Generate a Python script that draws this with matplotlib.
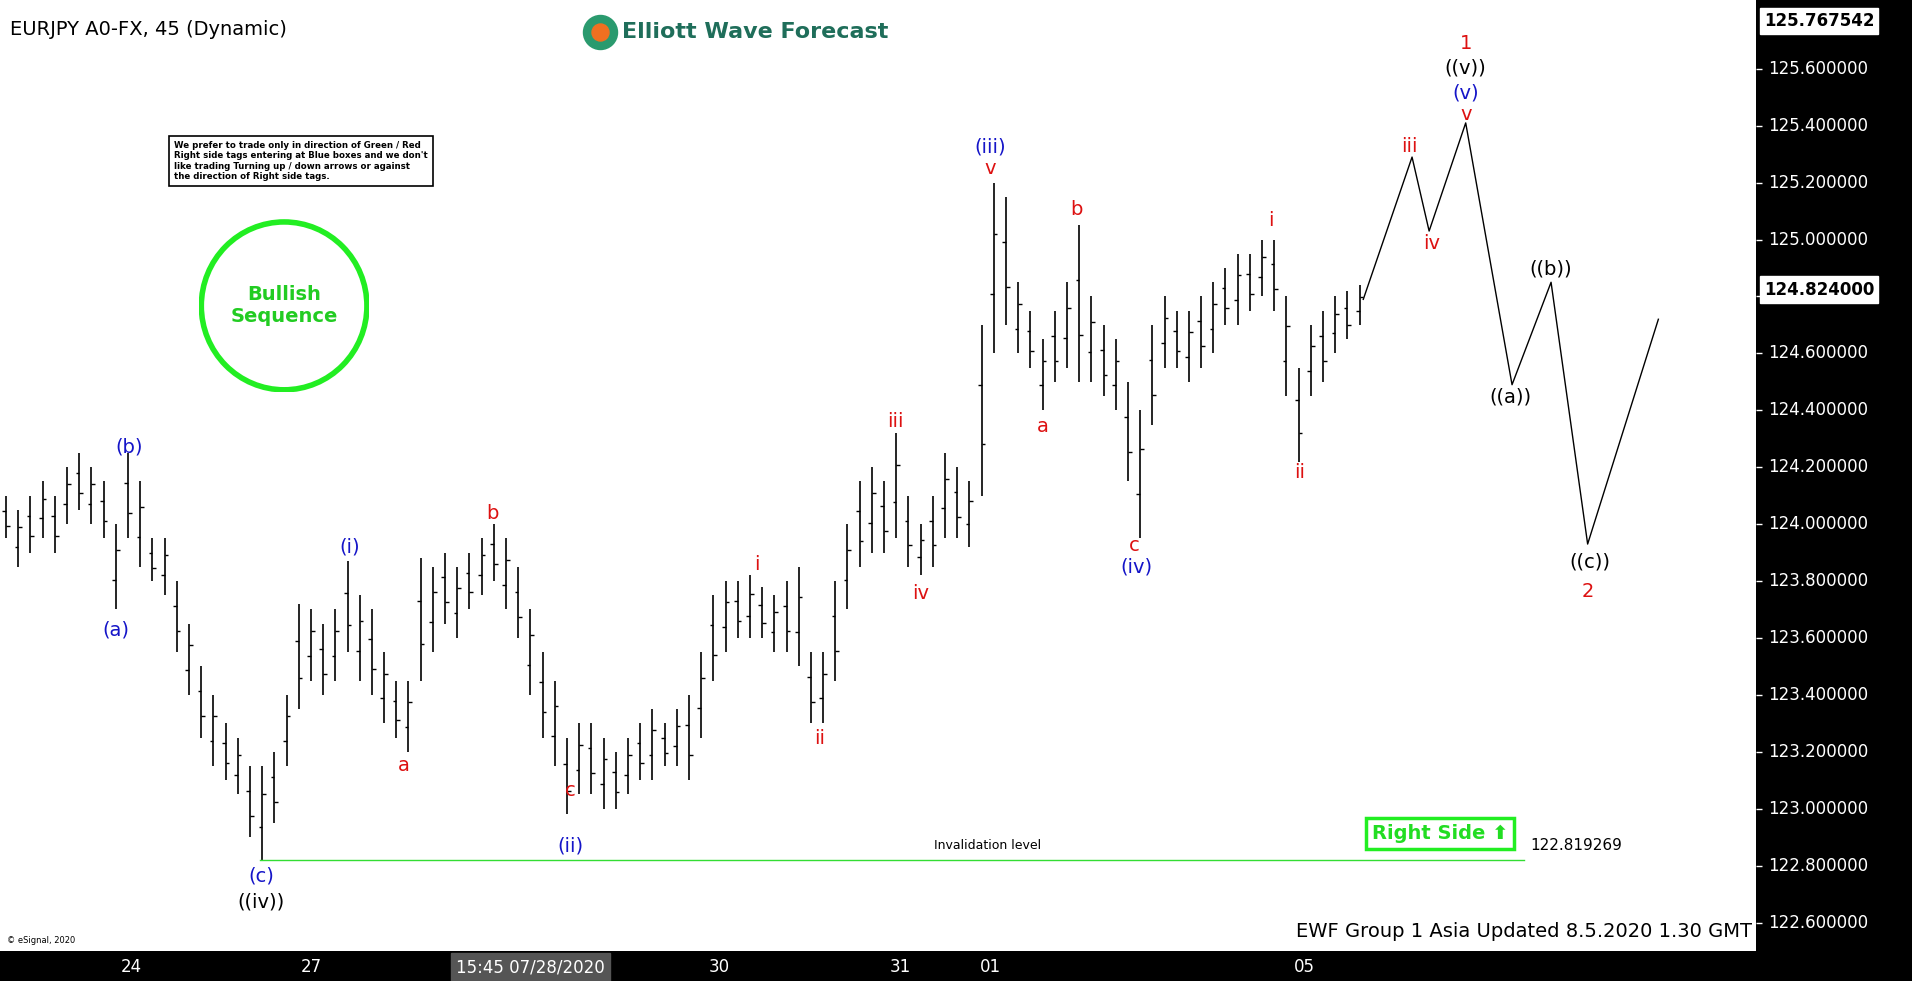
import matplotlib.pyplot as plt
from matplotlib.patches import Circle

# bar highs / lows (45 min bars, compressed)
highs = [124.10, 124.05, 124.10, 124.15, 124.10, 124.20, 124.25, 124.20, 124.15, 124.00,
         124.25, 124.15, 123.95, 123.95, 123.80, 123.65, 123.50, 123.40, 123.30, 123.25,
         123.15, 123.15, 123.20, 123.40, 123.72, 123.70, 123.65, 123.70, 123.87, 123.75,
         123.70, 123.55, 123.45, 123.45, 123.88, 123.85, 123.90, 123.85, 123.90, 123.95,
         124.00, 123.95, 123.85, 123.70, 123.55, 123.45, 123.25, 123.30, 123.30, 123.25,
         123.20, 123.25, 123.30, 123.35, 123.30, 123.35, 123.40, 123.55, 123.75, 123.80,
         123.80, 123.82, 123.78, 123.75, 123.80, 123.85, 123.55, 123.55, 123.80, 124.00,
         124.15, 124.20, 124.15, 124.32, 124.10, 124.00, 124.10, 124.25, 124.20, 124.15,
         124.70, 125.20, 125.15, 124.85, 124.75, 124.65, 124.75, 124.85, 125.05, 124.80,
         124.70, 124.65, 124.50, 124.40, 124.70, 124.80, 124.75, 124.75, 124.80, 124.85,
         124.90, 124.95, 124.95, 125.00, 125.00, 124.80, 124.55, 124.70, 124.75, 124.80,
         124.82, 124.84]
lows = [123.95, 123.85, 123.90, 123.95, 123.90, 124.00, 124.05, 124.00, 123.95, 123.70,
        123.95, 123.85, 123.80, 123.75, 123.55, 123.40, 123.25, 123.15, 123.10, 123.05,
        122.90, 122.82, 122.95, 123.15, 123.35, 123.45, 123.40, 123.45, 123.55, 123.45,
        123.40, 123.30, 123.25, 123.20, 123.45, 123.55, 123.65, 123.60, 123.70, 123.75,
        123.80, 123.70, 123.60, 123.40, 123.25, 123.15, 122.98, 123.05, 123.05, 123.00,
        123.00, 123.05, 123.10, 123.10, 123.15, 123.15, 123.10, 123.25, 123.45, 123.55,
        123.60, 123.60, 123.60, 123.55, 123.55, 123.50, 123.30, 123.30, 123.45, 123.70,
        123.85, 123.90, 123.90, 123.95, 123.85, 123.82, 123.85, 123.95, 123.95, 123.92,
        124.10, 124.60, 124.70, 124.60, 124.55, 124.40, 124.50, 124.55, 124.50, 124.50,
        124.45, 124.40, 124.15, 123.95, 124.35, 124.55, 124.55, 124.50, 124.55, 124.60,
        124.70, 124.70, 124.75, 124.80, 124.75, 124.45, 124.22, 124.45, 124.50, 124.60,
        124.65, 124.70]

# projected path
proj_x = [111.3, 115.3, 116.7, 119.7, 123.5, 126.7, 129.7, 135.5]
proj_y = [124.79, 125.29, 125.03, 125.41, 124.49, 124.85, 123.93, 124.72]

price_ticks = [122.6 + 0.2 * k for k in range(16)]
date_pos = [10.3, 25.0, 58.5, 73.3, 80.7, 106.5]
date_labels = ["24", "27", "30", "31", "01", "05"]
invalidation = 122.819269
last_price = 124.824
top_price = 125.767542

W, H = 1568, 805  # layout coordinates of the reference


def px(x):
    return (x - 5) / 10.0


def py(y):
    return 122.6 + (757 - y) * 0.2 / 46.7


fig = plt.figure(figsize=(19.12, 9.81), dpi=100)
fig.patch.set_facecolor("black")
ax = fig.add_axes([0, 1 - 780 / H, 1440 / W, 780 / H])
ax.set_facecolor("white")
ax.set_xlim(px(0), px(1440))
ax.set_ylim(py(780), py(0))
for s in ax.spines.values():
    s.set_visible(False)
ax.set_xticks([])
ax.set_yticks([])

for i, (h, l) in enumerate(zip(highs, lows)):
    ax.vlines(i, l, h, color="black", lw=1.2)
    o = l + (h - l) * (0.35 if i % 2 else 0.65)
    c = l + (h - l) * (0.7 if i % 2 else 0.3)
    ax.hlines(o, i - 0.3, i, color="black", lw=1.0)
    ax.hlines(c, i, i + 0.3, color="black", lw=1.0)

ax.plot(proj_x, proj_y, color="black", lw=1.0)
ax.plot([px(213), px(1250)], [invalidation, invalidation], color="#33dd33", lw=1)
ax.text(px(810), invalidation + 0.03, "Invalidation level", fontsize=9, ha="center", va="bottom")
ax.text(px(1255), invalidation + 0.05, "122.819269", fontsize=11, ha="left", va="center")

blue, red, blk = "#1515c8", "#dd1111", "black"
labels = [
    (95, 517, "(a)", blue), (106, 367, "(b)", blue), (214, 719, "(c)", blue), (214, 740, "((iv))", blk),
    (287, 449, "(i)", blue), (331, 628, "a", red), (404, 421, "b", red), (468, 649, "c", red),
    (468, 694, "(ii)", blue), (621, 463, "i", red), (672, 606, "ii", red), (734, 346, "iii", red),
    (755, 487, "iv", red), (812, 121, "(iii)", blue), (812, 138, "v", red), (855, 350, "a", red),
    (883, 172, "b", red), (930, 448, "c", red), (932, 465, "(iv)", blue), (1042, 181, "i", red),
    (1066, 388, "ii", red), (1156, 120, "iii", red), (1174, 200, "iv", red), (1202, 94, "v", red),
    (1202, 76, "(v)", blue), (1202, 56, "((v))", blk), (1202, 36, "1", red),
    (1239, 326, "((a))", blk), (1272, 221, "((b))", blk), (1304, 461, "((c))", blk), (1302, 485, "2", red),
]
for x, y, t, c in labels:
    ax.text(px(x), py(y), t, color=c, fontsize=14, ha="center", va="center")

ax.text(px(8), py(24), "EURJPY A0-FX, 45 (Dynamic)", fontsize=14, ha="left", va="center")
ax.scatter([px(492)], [py(26)], s=600, color="#2a9a6e", zorder=3)
ax.scatter([px(492)], [py(26)], s=150, color="#f07020", zorder=4)
ax.text(px(510), py(26), "Elliott Wave Forecast", fontsize=16, fontweight="bold",
        color="#1f6e5a", ha="left", va="center")
ax.text(px(6), py(772), "© eSignal, 2020", fontsize=6, ha="left", va="center")
ax.text(px(1437), py(764), "EWF Group 1 Asia Updated 8.5.2020 1.30 GMT", fontsize=14,
        ha="right", va="center")

ax.text(px(143), py(132),
        "We prefer to trade only in direction of Green / Red\nRight side tags entering at Blue boxes and we don't\n"
        "like trading Turning up / down arrows or against\nthe direction of Right side tags.",
        fontsize=6.2, fontweight="bold", ha="left", va="center",
        bbox=dict(boxstyle="square,pad=0.6", fc="white", ec="black", lw=1.2))

circ = fig.add_axes([163 / W, 1 - 322 / H, 140 / W, 142 / H])
circ.set_xlim(-1, 1)
circ.set_ylim(-1, 1)
circ.axis("off")
circ.add_patch(Circle((0, 0), 0.97, fill=False, ec="#22ee22", lw=4))
circ.text(0, 0, "Bullish\nSequence", color="#22cc22", fontsize=14, fontweight="bold",
          ha="center", va="center")

ax.text(px(1181), py(684), "Right Side ⬆", color="#22dd22", fontsize=14, fontweight="bold",
        ha="center", va="center",
        bbox=dict(boxstyle="square,pad=0.3", fc="white", ec="#22ee22", lw=2.5))

# right price axis
pax = fig.add_axes([1440 / W, 1 - 780 / H, 128 / W, 780 / H])
pax.set_facecolor("black")
pax.set_ylim(py(780), py(0))
pax.set_xlim(0, 1)
pax.set_xticks([])
pax.set_yticks([])
for s in pax.spines.values():
    s.set_visible(False)
for p in price_ticks:
    if py(760) < p < py(20):
        pax.hlines(p, 0, 0.04, color="white", lw=1)
        if abs(p - last_price) > 0.08:
            pax.text(0.08, p, f"{p:.6f}", color="white", fontsize=12, va="center")
pax.text(0.05, top_price, f"{top_price:.6f}", color="black", fontsize=12, fontweight="bold",
         va="center", bbox=dict(boxstyle="square,pad=0.25", fc="white", ec="white"))
pax.text(0.05, last_price, f"{last_price:.6f}", color="black", fontsize=12, fontweight="bold",
         va="center", bbox=dict(boxstyle="square,pad=0.25", fc="white", ec="white"))

# bottom date axis
dax = fig.add_axes([0, 0, 1440 / W, 25 / H])
dax.set_facecolor("black")
dax.set_xlim(px(0), px(1440))
dax.set_ylim(0, 1)
dax.axis("off")
for x, t in zip(date_pos, date_labels):
    dax.text(x, 0.45, t, color="white", fontsize=12, ha="center", va="center")
dax.text(px(435), 0.45, "15:45 07/28/2020", color="white", fontsize=12, ha="center", va="center",
         bbox=dict(boxstyle="square,pad=0.3", fc="#555555", ec="#555555"))

fig.savefig("out.png", dpi=100, facecolor="black")
